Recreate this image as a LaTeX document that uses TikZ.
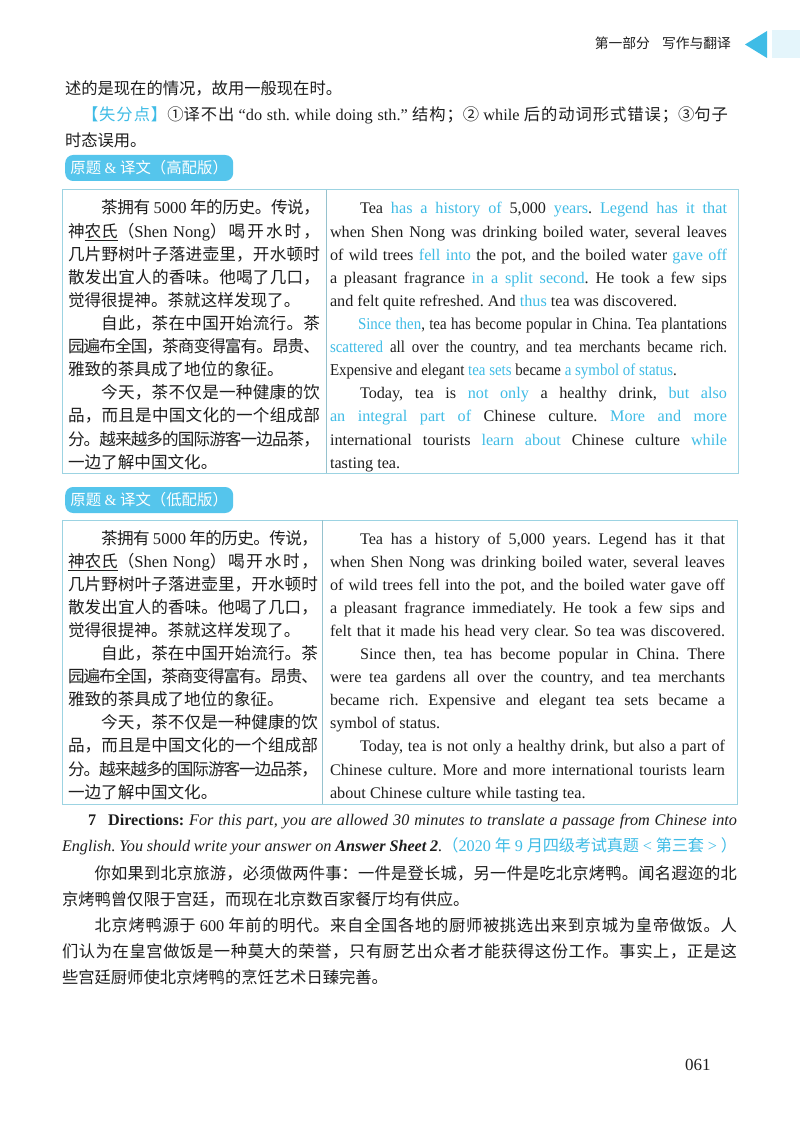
\documentclass[tikz,border=0pt]{standalone}
\usepackage{fontspec}
\setmainfont{Liberation Serif}
\newfontfamily\zh{Noto Sans CJK SC}
\newfontfamily\condfont[FakeStretch=0.9]{Liberation Serif}
\XeTeXinterchartokenstate=1
\newXeTeXintercharclass\cjkcls
\newcount\cjkn
\newcommand\setcjkrange[2]{\cjkn=#1\relax
  \loop\XeTeXcharclass\cjkn=\cjkcls\relax\ifnum\cjkn<#2\relax\advance\cjkn by 1\relax\repeat}
\setcjkrange{"3000}{"303F}
\setcjkrange{"4E00}{"9FFF}
\setcjkrange{"FF00}{"FF5E}
\XeTeXinterchartoks\cjkcls\cjkcls={\hskip 0pt plus 3pt minus 1.2pt\relax}
\definecolor{cy}{HTML}{3FBCE6}
\definecolor{ink}{HTML}{1E1E1E}
\definecolor{bord}{HTML}{9CD3E2}
\definecolor{pill}{HTML}{55C5EC}
\definecolor{faint}{HTML}{E4F5FB}
\newcommand\hl[1]{\textcolor{cy}{#1}}
\newcommand\rl[1]{{\rmfamily #1}}
\tikzset{
  basetext/.style={inner sep=0pt, outer sep=0pt, anchor=base west, text=ink},
  zhT/.style={basetext, font=\zh\fontsize{16.6}{20}\selectfont},
  enT/.style={basetext, font=\rmfamily\fontsize{16.2}{20}\selectfont},
  cdT/.style={basetext, font=\condfont\fontsize{16.6}{20}\selectfont},
  zhB/.style={basetext, font=\zh\fontsize{16.3}{20}\selectfont},
  enB/.style={basetext, font=\rmfamily\fontsize{16.2}{20}\selectfont},
  pillbox/.style={fill=pill, rounded corners=8pt, text=white, font=\zh\fontsize{15.4}{18}\selectfont, minimum width=168pt, minimum height=26pt, inner sep=0pt, anchor=west},
  tablebox/.style={draw=bord, line width=1pt},
  divline/.style={draw=bord!80!gray, line width=0.8pt}
}
\begin{document}
\frenchspacing
\begin{tikzpicture}[x=1pt,y=-1pt]
\path[use as bounding box, fill=white] (0,0) rectangle (800,1131);
% header
\node[basetext, anchor=base east, font=\zh\fontsize{13.8}{16}\selectfont] (hdr) at (731,49) {第一部分\hspace{12pt}写作与翻译};
\fill[cy] (767,31) -- (745,44.5) -- (767,58) -- cycle;
\fill[faint] (772,30) rectangle (800,58);
% top text
\node[zhB] (b1) at (65,95) {述的是现在的情况，故用一般现在时。};
\node[zhB] (b2) at (82,121) {\makebox[646pt][s]{\hl{【失分点】}①译不出 \rl{“do sth. while doing sth.”} 结构；② \rl{while} 后的动词形式错误；③句子}};
\node[zhB] (b3) at (65,147) {时态误用。};
% pill 1
\node[pillbox] (pill1) at (65,168) {原题 \rl{\&} 译文（高配版）};
% table 1
\draw[tablebox] (62,190) rectangle (738,473);
\draw[divline] (326,190) -- (326,473);
\node[zhT] (a1) at (68,214) {\makebox[252pt][s]{\hspace*{2em}茶拥有 \rl{5000} 年的历史。传说，}};
\node[zhT] (a2) at (68,237.1) {\makebox[252pt][s]{神\underline{农氏}（\rl{Shen Nong}）喝开水时，}};
\node[zhT] (a3) at (68,260.2) {\makebox[252pt][s]{几片野树叶子落进壶里，开水顿时}};
\node[zhT] (a4) at (68,283.3) {\makebox[252pt][s]{散发出宜人的香味。他喝了几口，}};
\node[zhT] (a5) at (68,306.4) {觉得很提神。茶就这样发现了。};
\node[zhT] (a6) at (68,329.5) {\makebox[252pt][s]{\hspace*{2em}自此，茶在中国开始流行。茶}};
\node[zhT] (a7) at (68,352.6) {\makebox[252pt][s]{园遍布全国，茶商变得富有。昂贵、}};
\node[zhT] (a8) at (68,375.7) {雅致的茶具成了地位的象征。};
\node[zhT] (a9) at (68,398.8) {\makebox[252pt][s]{\hspace*{2em}今天，茶不仅是一种健康的饮}};
\node[zhT] (a10) at (68,421.9) {\makebox[252pt][s]{品，而且是中国文化的一个组成部}};
\node[zhT] (a11) at (68,445) {\makebox[252pt][s]{分。越来越多的国际游客一边品茶，}};
\node[zhT] (a12) at (68,468.1) {一边了解中国文化。};
\node[enT] (e1) at (330,214) {\makebox[397pt][s]{\hspace*{30pt}Tea \hl{has a history of} 5,000 \hl{years}. \hl{Legend has it that}}};
\node[enT] (e2) at (330,237.1) {\makebox[397pt][s]{when Shen Nong was drinking boiled water, several leaves}};
\node[enT] (e3) at (330,260.2) {\makebox[397pt][s]{of wild trees \hl{fell into} the pot, and the boiled water \hl{gave off}}};
\node[enT] (e4) at (330,283.3) {\makebox[397pt][s]{a pleasant fragrance \hl{in a split second}. He took a few sips}};
\node[enT] (e5) at (330,306.4) {and felt quite refreshed. And \hl{thus} tea was discovered.};
\node[cdT] (e6) at (330,329.5) {\makebox[397pt][s]{\hspace*{28pt}\hl{Since then}, tea has become popular in China. Tea plantations}};
\node[cdT] (e7) at (330,352.6) {\makebox[397pt][s]{\hl{scattered} all over the country, and tea merchants became rich.}};
\node[cdT] (e8) at (330,375.7) {Expensive and elegant \hl{tea sets} became \hl{a symbol of status}.};
\node[enT] (e9) at (330,398.8) {\makebox[397pt][s]{\hspace*{30pt}Today, tea is \hl{not only} a healthy drink, \hl{but also}}};
\node[enT] (e10) at (330,421.9) {\makebox[397pt][s]{\hl{an integral part of} Chinese culture. \hl{More and more}}};
\node[enT] (e11) at (330,445) {\makebox[397pt][s]{international tourists \hl{learn about} Chinese culture \hl{while}}};
\node[enT] (e12) at (330,468.1) {tasting tea.};
% pill 2
\node[pillbox] (pill2) at (65,500) {原题 \rl{\&} 译文（低配版）};
% table 2
\draw[tablebox] (62,520) rectangle (737,804);
\draw[divline] (322,520) -- (322,804);
\node[zhT] (c1) at (68,544) {\makebox[250pt][s]{\hspace*{2em}茶拥有 \rl{5000} 年的历史。传说，}};
\node[zhT] (c2) at (68,567.1) {\makebox[250pt][s]{\underline{神农氏}（\rl{Shen Nong}）喝开水时，}};
\node[zhT] (c3) at (68,590.2) {\makebox[250pt][s]{几片野树叶子落进壶里，开水顿时}};
\node[zhT] (c4) at (68,613.3) {\makebox[250pt][s]{散发出宜人的香味。他喝了几口，}};
\node[zhT] (c5) at (68,636.4) {觉得很提神。茶就这样发现了。};
\node[zhT] (c6) at (68,659.5) {\makebox[250pt][s]{\hspace*{2em}自此，茶在中国开始流行。茶}};
\node[zhT] (c7) at (68,682.6) {\makebox[250pt][s]{园遍布全国，茶商变得富有。昂贵、}};
\node[zhT] (c8) at (68,705.7) {雅致的茶具成了地位的象征。};
\node[zhT] (c9) at (68,728.8) {\makebox[250pt][s]{\hspace*{2em}今天，茶不仅是一种健康的饮}};
\node[zhT] (c10) at (68,751.9) {\makebox[250pt][s]{品，而且是中国文化的一个组成部}};
\node[zhT] (c11) at (68,775) {\makebox[250pt][s]{分。越来越多的国际游客一边品茶，}};
\node[zhT] (c12) at (68,798.1) {一边了解中国文化。};
\node[enT] (f1) at (330,544) {\makebox[395pt][s]{\hspace*{30pt}Tea has a history of 5,000 years. Legend has it that}};
\node[enT] (f2) at (330,567.1) {\makebox[395pt][s]{when Shen Nong was drinking boiled water, several leaves}};
\node[enT] (f3) at (330,590.2) {\makebox[395pt][s]{of wild trees fell into the pot, and the boiled water gave off}};
\node[enT] (f4) at (330,613.3) {\makebox[395pt][s]{a pleasant fragrance immediately. He took a few sips and}};
\node[enT] (f5) at (330,636.4) {\makebox[395pt][s]{felt that it made his head very clear. So tea was discovered.}};
\node[enT] (f6) at (330,659.5) {\makebox[395pt][s]{\hspace*{30pt}Since then, tea has become popular in China. There}};
\node[enT] (f7) at (330,682.6) {\makebox[395pt][s]{were tea gardens all over the country, and tea merchants}};
\node[enT] (f8) at (330,705.7) {\makebox[395pt][s]{became rich. Expensive and elegant tea sets became a}};
\node[enT] (f9) at (330,728.8) {symbol of status.};
\node[enT] (f10) at (330,751.9) {\makebox[395pt][s]{\hspace*{30pt}Today, tea is not only a healthy drink, but also a part of}};
\node[enT] (f11) at (330,775) {\makebox[395pt][s]{Chinese culture. More and more international tourists learn}};
\node[enT] (f12) at (330,798.1) {about Chinese culture while tasting tea.};
% directions
\node[enB] (d1) at (88,825) {\makebox[649pt][s]{\textbf{7}\hspace{12pt}\textbf{Directions:} \textit{For this part, you are allowed 30 minutes to translate a passage from Chinese into}}};
\node[enB] (d2) at (62,851) {\makebox[675pt][s]{\textit{English. You should write your answer on \textbf{Answer Sheet 2}.}\hl{{\zh（}2020 {\zh 年} 9 {\zh 月四级考试真题} < {\zh 第三套} > {\zh ）}}}};
% passage
\node[zhB] (p1) at (62,879) {\makebox[675pt][s]{\hspace*{2em}你如果到北京旅游，必须做两件事：一件是登长城，另一件是吃北京烤鸭。闻名遐迩的北}};
\node[zhB] (p2) at (62,905) {京烤鸭曾仅限于宫廷，而现在北京数百家餐厅均有供应。};
\node[zhB] (p3) at (62,931) {\makebox[675pt][s]{\hspace*{2em}北京烤鸭源于 \rl{600} 年前的明代。来自全国各地的厨师被挑选出来到京城为皇帝做饭。人}};
\node[zhB] (p4) at (62,957) {\makebox[675pt][s]{们认为在皇宫做饭是一种莫大的荣誉，只有厨艺出众者才能获得这份工作。事实上，正是这}};
\node[zhB] (p5) at (62,983) {些宫廷厨师使北京烤鸭的烹饪艺术日臻完善。};
% page number
\node[enB, font=\rmfamily\fontsize{17}{20}\selectfont] (pg) at (685,1070) {061};
\end{tikzpicture}
\end{document}
